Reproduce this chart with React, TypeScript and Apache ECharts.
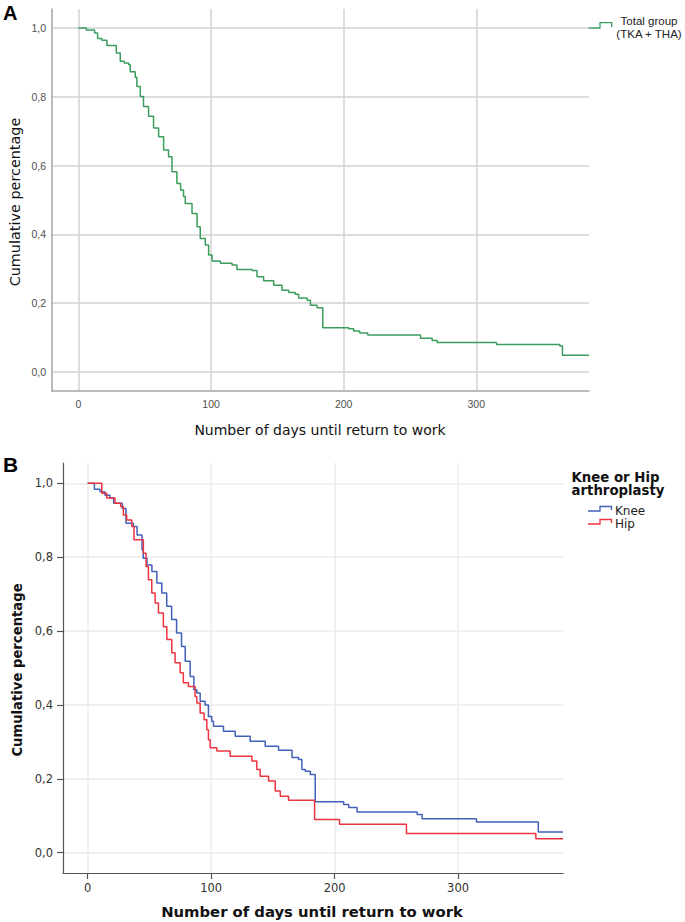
import React, { useEffect, useRef } from "react";
import * as echarts from "echarts";

// ---- data ----
const dayTicks = [0, 100, 200, 300];
const pctTicks = [0, 0.2, 0.4, 0.6, 0.8, 1.0];

const totalDays = [0, 5.8, 12.1, 14.4, 17.6, 21.4, 28.5, 31.5, 34.5, 37.8, 39, 42.8, 44, 46.6, 49, 52.8, 56.6, 60.4, 64.2, 67.9, 70.5, 74.2, 77, 79.2, 80.5, 85.6, 89.4, 91.8, 95.6, 98.1, 100.7, 107, 115.8, 119.5, 130.9, 134.6, 139.6, 147.2, 153.5, 158.5, 163.5, 166, 172.4, 174.9, 179.9, 184.2, 203.8, 207.5, 212.1, 218.1, 257.9, 266.7, 270.5, 315.2, 363, 365];
const totalSurv = [1.0, 0.994, 0.985, 0.969, 0.964, 0.949, 0.927, 0.903, 0.898, 0.893, 0.873, 0.857, 0.83, 0.801, 0.772, 0.743, 0.709, 0.684, 0.645, 0.626, 0.582, 0.548, 0.529, 0.51, 0.49, 0.461, 0.422, 0.388, 0.369, 0.34, 0.323, 0.316, 0.311, 0.298, 0.295, 0.277, 0.265, 0.252, 0.238, 0.231, 0.226, 0.2155, 0.209, 0.194, 0.187, 0.129, 0.126, 0.119, 0.1135, 0.108, 0.098, 0.092, 0.086, 0.08, 0.076, 0.049];

const kneeDays = [0, 5.4, 10, 14, 18, 21, 28, 31, 37, 40, 44, 45, 48, 52, 56, 60, 64, 68, 72, 76, 79, 83, 86, 88.4, 91.1, 95.1, 97.8, 100.5, 101.9, 110, 119.5, 131.6, 143.8, 154.6, 165.5, 170.8, 173.5, 176.2, 180.3, 184.3, 207.3, 211.4, 218.2, 266.8, 270.9, 314.9, 365];
const kneeSurv = [1.0, 0.984, 0.977, 0.968, 0.96, 0.946, 0.932, 0.892, 0.883, 0.86, 0.82, 0.797, 0.779, 0.761, 0.73, 0.703, 0.667, 0.631, 0.595, 0.558, 0.518, 0.477, 0.441, 0.432, 0.41, 0.4, 0.369, 0.356, 0.342, 0.329, 0.315, 0.302, 0.288, 0.277, 0.258, 0.252, 0.225, 0.2205, 0.212, 0.138, 0.1305, 0.122, 0.11, 0.1035, 0.092, 0.083, 0.056];

const hipDays = [0, 11.4, 15.4, 22.1, 26.7, 28.9, 31.6, 35.7, 37.5, 45.1, 47.3, 49.2, 51.9, 54.6, 57.3, 61.3, 64.1, 68.1, 70.8, 74.9, 77.5, 81.6, 87, 88.4, 91.1, 94.3, 96.5, 97.8, 99.2, 104.6, 115.4, 133, 137, 139.7, 146.5, 151.9, 156, 162.7, 183.8, 204, 258.2, 363];
const hipSurv = [1.0, 0.973, 0.96, 0.946, 0.937, 0.914, 0.901, 0.883, 0.847, 0.811, 0.775, 0.739, 0.703, 0.676, 0.649, 0.612, 0.577, 0.541, 0.514, 0.487, 0.46, 0.45, 0.423, 0.405, 0.378, 0.36, 0.333, 0.306, 0.284, 0.275, 0.261, 0.248, 0.225, 0.207, 0.194, 0.167, 0.153, 0.142, 0.09, 0.077, 0.052, 0.038];

const X_MIN = -20;
const X_MAX = 385;
const Y_MIN = -0.055;
const Y_MAX = 1.055;

const GREEN = "#3a9d5d";
const BLUE = "#4260b8";
const RED = "#ee3340";

function toPairs(days: number[], surv: number[]) {
  const pts = days.map((d, i) => [d, surv[i]]);
  pts.push([X_MAX, surv[surv.length - 1]]);
  return pts;
}

const fmtPct = (v: number) => v.toFixed(1).replace(".", ",");

export default function App() {
  const ref = useRef<HTMLDivElement>(null);

  useEffect(() => {
    if (!ref.current) return;
    const chart = echarts.init(ref.current, null, { renderer: "svg" });

    const sansA = "Liberation Sans";
    const sansB = "DejaVu Sans";

    const option: any = {
      animation: false,
      backgroundColor: "#ffffff",
      grid: [
        { left: 52, top: 9, width: 537, height: 382, containLabel: false },
        { left: 63, top: 463, width: 500, height: 410, containLabel: false },
      ],
      xAxis: [
        {
          type: "value",
          gridIndex: 0,
          min: X_MIN,
          max: X_MAX,
          axisLine: { show: true, onZero: false, lineStyle: { color: "#a5a5a5", width: 1.5 } },
          axisTick: { show: false, customValues: dayTicks },
          axisLabel: {
            customValues: dayTicks,
            color: "#505050",
            fontSize: 10.5,
            fontFamily: sansA,
            margin: 7,
          },
          splitLine: { show: true, lineStyle: { color: "#d2d2d2", width: 1.5 } },
        },
        {
          type: "value",
          gridIndex: 1,
          min: X_MIN,
          max: X_MAX,
          axisLine: { show: true, onZero: false, lineStyle: { color: "#555555", width: 1.2 } },
          axisTick: { show: true, length: 6, customValues: dayTicks, lineStyle: { color: "#555555", width: 1.2 } },
          axisLabel: {
            customValues: dayTicks,
            color: "#333333",
            fontSize: 11.5,
            fontFamily: sansB,
            margin: 9,
          },
          splitLine: { show: true, lineStyle: { color: "#ebebeb", width: 1.5 } },
        },
      ],
      yAxis: [
        {
          type: "value",
          gridIndex: 0,
          min: Y_MIN,
          max: Y_MAX,
          axisLine: { show: true, onZero: false, lineStyle: { color: "#a5a5a5", width: 1.5 } },
          axisTick: { show: false, customValues: pctTicks },
          axisLabel: {
            customValues: pctTicks,
            formatter: fmtPct,
            color: "#505050",
            fontSize: 10.5,
            fontFamily: sansA,
            margin: 6,
          },
          splitLine: { show: true, lineStyle: { color: "#d2d2d2", width: 1.5 } },
        },
        {
          type: "value",
          gridIndex: 1,
          min: Y_MIN,
          max: Y_MAX,
          axisLine: { show: true, onZero: false, lineStyle: { color: "#555555", width: 1.2 } },
          axisTick: { show: true, length: 6, customValues: pctTicks, lineStyle: { color: "#555555", width: 1.2 } },
          axisLabel: {
            customValues: pctTicks,
            formatter: fmtPct,
            color: "#333333",
            fontSize: 11.5,
            fontFamily: sansB,
            margin: 10,
          },
          splitLine: { show: true, lineStyle: { color: "#ebebeb", width: 1.5 } },
        },
      ],
      series: [
        {
          name: "Total group (TKA + THA)",
          type: "line",
          step: "end",
          xAxisIndex: 0,
          yAxisIndex: 0,
          showSymbol: false,
          symbol: "none",
          lineStyle: { color: GREEN, width: 1.5 },
          data: toPairs(totalDays, totalSurv),
        },
        {
          name: "Knee",
          type: "line",
          step: "end",
          xAxisIndex: 1,
          yAxisIndex: 1,
          showSymbol: false,
          symbol: "none",
          lineStyle: { color: BLUE, width: 1.5 },
          data: toPairs(kneeDays, kneeSurv),
        },
        {
          name: "Hip",
          type: "line",
          step: "end",
          xAxisIndex: 1,
          yAxisIndex: 1,
          showSymbol: false,
          symbol: "none",
          lineStyle: { color: RED, width: 1.5 },
          data: toPairs(hipDays, hipSurv),
        },
      ],
      graphic: [
        // panel letters
        { type: "text", x: 3, y: 13, style: { text: "A", font: `bold 20px ${sansA}`, fill: "#000", verticalAlign: "middle" } },
        { type: "text", x: 3, y: 464.5, style: { text: "B", font: `bold 21px ${sansA}`, fill: "#000", verticalAlign: "middle" } },
        // panel A titles
        { type: "text", x: 320, y: 430, style: { text: "Number of days until return to work", font: `14px ${sansB}`, fill: "#111", align: "center", verticalAlign: "middle" } },
        { type: "text", x: 15, y: 202, rotation: Math.PI / 2, style: { text: "Cumulative percentage", font: `14.4px ${sansB}`, fill: "#111", align: "center", verticalAlign: "middle" } },
        // panel A legend
        { type: "polyline", shape: { points: [[588, 28], [600, 28], [600, 22.7], [611.7, 22.7], [611.7, 27]] }, style: { stroke: GREEN, lineWidth: 1.3, fill: "none" } },
        { type: "text", x: 649, y: 21, style: { text: "Total group", font: `11.5px ${sansA}`, fill: "#222", align: "center", verticalAlign: "middle" } },
        { type: "text", x: 649, y: 33.5, style: { text: "(TKA + THA)", font: `11.5px ${sansA}`, fill: "#222", align: "center", verticalAlign: "middle" } },
        // panel B titles
        { type: "text", x: 312, y: 911.5, style: { text: "Number of days until return to work", font: `bold 14.8px ${sansB}`, fill: "#111", align: "center", verticalAlign: "middle" } },
        { type: "text", x: 17, y: 670, rotation: Math.PI / 2, style: { text: "Cumulative percentage", font: `bold 13.2px ${sansB}`, fill: "#111", align: "center", verticalAlign: "middle" } },
        // panel B legend
        { type: "text", x: 571.5, y: 477, style: { text: "Knee or Hip", font: `bold 13.3px ${sansB}`, fill: "#111", align: "left", verticalAlign: "middle" } },
        { type: "text", x: 571.5, y: 490.5, style: { text: "arthroplasty", font: `bold 13.3px ${sansB}`, fill: "#111", align: "left", verticalAlign: "middle" } },
        { type: "polyline", shape: { points: [[588, 511], [600, 511], [600, 506.5], [611.5, 506.5], [611.5, 510]] }, style: { stroke: BLUE, lineWidth: 1.3, fill: "none" } },
        { type: "polyline", shape: { points: [[588, 524], [600, 524], [600, 519.5], [611.5, 519.5], [611.5, 523]] }, style: { stroke: RED, lineWidth: 1.3, fill: "none" } },
        { type: "text", x: 615, y: 510.5, style: { text: "Knee", font: `12px ${sansB}`, fill: "#222", align: "left", verticalAlign: "middle" } },
        { type: "text", x: 615, y: 523.5, style: { text: "Hip", font: `12px ${sansB}`, fill: "#222", align: "left", verticalAlign: "middle" } },
      ],
    };

    chart.setOption(option);
    return () => {
      chart.dispose();
    };
  }, []);

  return (
    <div
      ref={ref}
      style={{ position: "absolute", left: 0, top: 0, width: 685, height: 922, background: "#fff" }}
    />
  );
}
